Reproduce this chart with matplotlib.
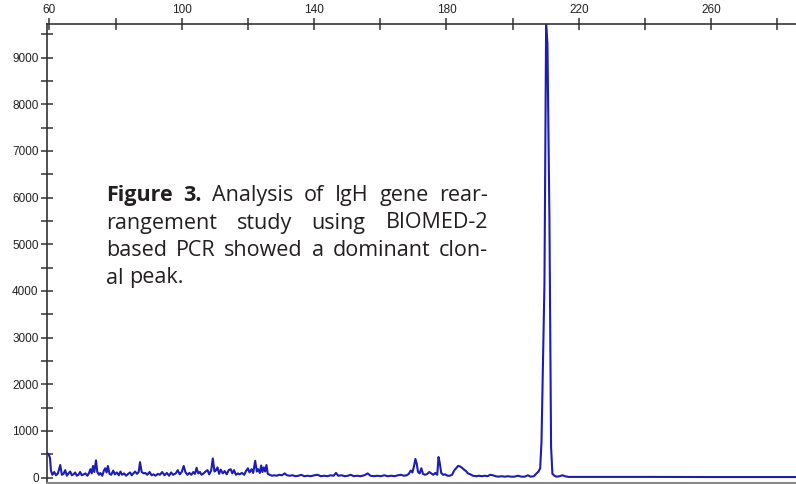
import numpy as np
import matplotlib
matplotlib.use('Agg')
import matplotlib.pyplot as plt
from matplotlib.ticker import MultipleLocator, FixedLocator

# fragment size (bp) and fluorescence
size = [59.4, 59.8, 60.2, 60.5, 60.9, 61.5, 62.0, 62.6, 63.3, 63.8, 64.3, 64.8, 65.3, 65.8,
        66.3, 66.8, 67.3, 67.8, 68.3, 68.8, 69.3, 69.8, 70.4, 70.9, 71.5, 72.0, 72.4, 72.8,
        73.2, 73.6, 74.1, 74.5, 75.0, 75.4, 76.0, 76.5, 76.9, 77.3, 77.7, 78.2, 78.7, 79.3,
        79.8, 80.4, 81.0, 81.5, 82.0, 82.6, 83.2, 83.8, 84.4, 84.9, 85.4, 85.9, 86.5, 87.0,
        87.4, 87.9, 88.5, 89.0, 89.6, 90.3, 90.9, 91.5, 92.1, 92.8, 93.4, 94.1, 94.8, 95.5,
        96.2, 96.8, 97.4, 98.2, 98.8, 99.4, 100.0, 100.6, 101.1, 101.7, 102.3, 102.9, 103.5,
        104.0, 104.5, 105.0, 105.5, 106.0, 106.6, 107.2, 107.8, 108.3, 108.9, 109.4, 109.9,
        110.4, 110.8, 111.3, 111.8, 112.4, 113.0, 113.6, 114.2, 114.8, 115.3, 115.8, 116.4,
        117.0, 117.5, 118.2, 118.9, 119.5, 120.0, 120.5, 121.1, 121.6, 122.2, 122.7, 123.1,
        123.6, 124.0, 124.4, 124.8, 125.2, 125.6, 126.0, 126.6, 127.3, 128.0, 128.7, 129.4,
        130.3, 131.1, 131.8, 132.6, 133.5, 134.4, 135.3, 136.1, 137.0, 138.0, 139.0, 140.1,
        141.1, 142.0, 143.0, 144.0, 145.0, 145.9, 146.6, 147.3, 148.3, 149.3, 150.2, 151.1,
        152.0, 153.0, 154.0, 155.2, 156.2, 157.0, 158.0, 159.0, 160.2, 161.2, 162.2, 163.3,
        164.4, 165.3, 166.2, 167.1, 168.0, 168.6, 169.2, 169.7, 170.2, 170.6, 171.0, 171.4,
        171.9, 172.4, 172.9, 173.5, 174.2, 174.8, 175.4, 176.0, 176.6, 177.2, 177.6, 178.0,
        178.4, 179.0, 179.6, 180.3, 181.0, 181.7, 182.3, 182.9, 183.5, 184.1, 184.7, 185.3,
        185.9, 186.5, 187.2, 188.0, 189.0, 189.8, 190.7, 191.6, 192.4, 193.2, 194.0, 194.8,
        195.7, 196.6, 197.6, 198.6, 199.5, 200.5, 201.6, 202.6, 203.6, 204.6, 205.4, 206.4,
        207.2, 207.8, 208.3, 208.7, 209.6, 210.1, 210.5, 211.1, 211.6, 212.0, 212.6, 213.3,
        214.2, 215.0, 215.8, 216.8, 220.0, 240.0, 260.0, 286.0]
signal = [520, 500, 420, 150, 60, 120, 50, 90, 270, 60, 80, 160, 40, 90,
          130, 50, 70, 110, 40, 60, 120, 50, 70, 90, 40, 100, 180, 90,
          250, 120, 370, 120, 60, 100, 40, 150, 200, 110, 250, 80, 60, 150,
          70, 110, 50, 130, 60, 90, 40, 80, 110, 50, 90, 130, 80, 120,
          330, 120, 90, 100, 60, 120, 50, 70, 40, 80, 60, 120, 50, 100,
          40, 110, 60, 90, 160, 70, 120, 250, 120, 60, 100, 60, 120,
          80, 210, 90, 120, 60, 90, 130, 160, 70, 150, 410, 130,
          160, 220, 80, 170, 90, 140, 70, 160, 180, 90, 160, 60,
          90, 70, 100, 60, 150, 200, 110, 180, 100, 360, 130, 180,
          100, 260, 120, 220, 130, 270, 80, 60, 40, 50, 40, 60,
          50, 90, 50, 40, 50, 30, 40, 60, 30, 40, 30, 50,
          60, 30, 40, 30, 50, 40, 100, 40, 50, 30, 40, 60,
          30, 40, 30, 50, 90, 40, 30, 40, 30, 50, 30, 40,
          30, 50, 60, 40, 50, 80, 150, 110, 250, 400, 300, 120,
          90, 200, 80, 60, 80, 120, 90, 60, 100, 60, 440, 300,
          100, 60, 70, 40, 40, 60, 150, 200, 250, 240, 210, 170,
          140, 90, 70, 40, 30, 40, 30, 40, 30, 60, 50, 30,
          20, 30, 20, 30, 20, 20, 40, 20, 20, 50, 20, 30,
          90, 130, 200, 750, 4160, 9700, 9300, 5560, 660, 80, 40, 20,
          30, 50, 30, 15, 15, 15, 12, 12]

x_labels = [60, 100, 140, 180, 220, 260]
x_minor = [80, 120, 160, 200, 240, 280]

caption = [
    [("Figure", "bold"), ("3.", "bold"), ("Analysis", "normal"), ("of", "normal"),
     ("IgH", "normal"), ("gene", "normal"), ("rear-", "normal")],
    [("rangement", "normal"), ("study", "normal"), ("using", "normal"), ("BIOMED-2", "normal")],
    [("based", "normal"), ("PCR", "normal"), ("showed", "normal"), ("a", "normal"),
     ("dominant", "normal"), ("clon-", "normal")],
    [("al", "normal"), ("peak.", "normal")],
]

W, H = 796, 484
fig = plt.figure(figsize=(W / 100, H / 100), dpi=100)
ax = fig.add_axes([47 / W, 1.5 / H, 1 - 47 / W, 458.5 / H])

ax.plot(size, signal, color='#1c1cb8', lw=1.5)
ax.set_xlim(59.3, 285.6)
ax.set_ylim(-105, 9720)

for s in ['top', 'left']:
    ax.spines[s].set_color('#333333')
    ax.spines[s].set_linewidth(1.2)
ax.spines['right'].set_visible(False)
ax.spines['bottom'].set_color('#888888')
ax.spines['bottom'].set_linewidth(1.5)

ax.xaxis.tick_top()
ax.xaxis.set_major_locator(FixedLocator(x_labels))
ax.xaxis.set_minor_locator(FixedLocator(x_minor))
ax.yaxis.set_major_locator(MultipleLocator(1000))
ax.yaxis.set_minor_locator(MultipleLocator(500))
ax.tick_params(which='both', direction='inout', length=8, width=1.1, color='#333333',
               labelsize=8.5, labelcolor='#222222')
ax.tick_params(axis='x', pad=2)
ax.tick_params(axis='y', pad=2)
for lab in ax.get_xticklabels() + ax.get_yticklabels():
    lab.set_family('Liberation Sans')

# justified caption, placed word by word
renderer = fig.canvas.get_renderer()
left, right = 106, 488
baselines = [201, 228.5, 256, 283.5]
fam = 'Open Sans'
fs = 15.5
texts_all = []
for i, line in enumerate(caption):
    texts = []
    for word, weight in line:
        t = fig.text(0, 0, word, fontsize=fs, family=fam, weight=weight,
                     color='#231f20', va='baseline', ha='left', transform=None)
        texts.append(t)
    texts_all.append(texts)

space = renderer.points_to_pixels(fs) * 0.26
for i, texts in enumerate(texts_all):
    widths = [t.get_window_extent(renderer).width for t in texts]
    if i < len(texts_all) - 1:
        gap = (right - left - sum(widths)) / (len(texts) - 1)
    else:
        gap = space
    x = left
    for t, w in zip(texts, widths):
        t.set_position((x, H - baselines[i]))
        x += w + gap

fig.savefig('out.png', dpi=100)
